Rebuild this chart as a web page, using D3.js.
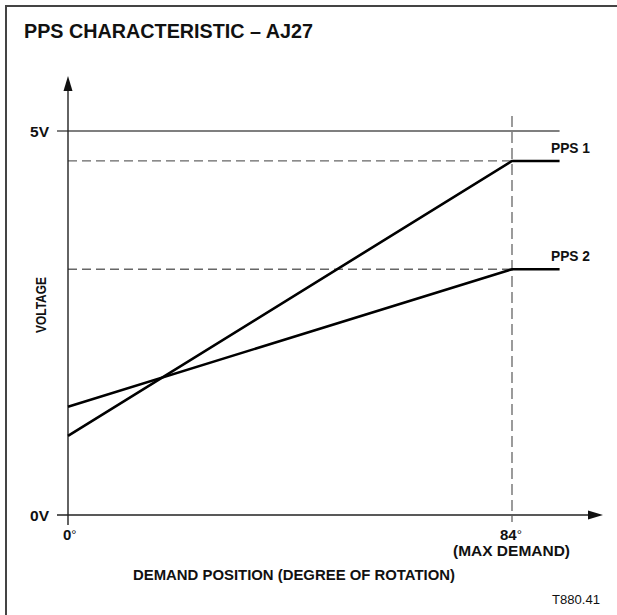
<!DOCTYPE html>
<html>
<head>
<meta charset="utf-8">
<script src="https://cdn.jsdelivr.net/npm/d3@7"></script>
<style>
  html, body { margin: 0; padding: 0; background: #fff; }
  svg { display: block; }
  text { font-family: "Liberation Sans", Arial, Helvetica, sans-serif; fill: #111; }
</style>
</head>
<body>
<svg id="chart" width="617" height="615"></svg>
<script>
// Pedal position sensor output versus demand angle
const angles = [0, 84, 93];          // degrees of rotation
const pps1 = [1.03, 4.61, 4.61];     // volts
const pps2 = [1.41, 3.20, 3.20];     // volts
const voltTicks = [0, 5];
const voltLabels = ["0V", "5V"];
const angleTicks = [0, 84];
const angleLabels = ["0", "84"];
const seriesNames = ["PPS 1", "PPS 2"];

const svg = d3.select("#chart");

const x = d3.scaleLinear().domain([0, 84]).range([68, 512]);
const y = d3.scaleLinear().domain([0, 5]).range([515, 131]);

// frame
svg.append("path")
  .attr("d", "M6,620 L6,6 L620,6")
  .attr("fill", "none").attr("stroke", "#444").attr("stroke-width", 2);

// title
svg.append("text")
  .attr("x", 24).attr("y", 38)
  .attr("font-size", 20).attr("font-weight", "bold")
  .attr("textLength", 289).attr("lengthAdjust", "spacingAndGlyphs")
  .text("PPS CHARACTERISTIC \u2013 AJ27");

const gridColor = "#555";
const dashColor = "#666";

// 5V reference line
svg.append("line")
  .attr("x1", 57).attr("x2", x(93))
  .attr("y1", y(5)).attr("y2", y(5))
  .attr("stroke", gridColor).attr("stroke-width", 1.3);

// dashed level lines for each sensor's maximum
[pps1[1], pps2[1]].forEach(v => {
  svg.append("line")
    .attr("x1", x(0)).attr("x2", x(84))
    .attr("y1", y(v)).attr("y2", y(v))
    .attr("stroke", dashColor).attr("stroke-width", 1.3)
    .attr("stroke-dasharray", "9,5");
});

// dashed max-demand line
svg.append("line")
  .attr("x1", x(84)).attr("x2", x(84))
  .attr("y1", 116).attr("y2", 522)
  .attr("stroke", dashColor).attr("stroke-width", 1.3)
  .attr("stroke-dasharray", "11,5");

// axes
svg.append("line")
  .attr("x1", 57).attr("x2", 592)
  .attr("y1", y(0)).attr("y2", y(0))
  .attr("stroke", "#222").attr("stroke-width", 1.4);
svg.append("path")
  .attr("d", `M603,${y(0)} L588,${y(0) - 4.5} L588,${y(0) + 4.5} Z`)
  .attr("fill", "#111");

svg.append("line")
  .attr("x1", x(0)).attr("x2", x(0))
  .attr("y1", 525).attr("y2", 88)
  .attr("stroke", "#222").attr("stroke-width", 1.4);
svg.append("path")
  .attr("d", `M${x(0)},76 L${x(0) - 4.5},91 L${x(0) + 4.5},91 Z`)
  .attr("fill", "#111");

// y tick labels
svg.selectAll(".vlab").data(voltTicks).join("text")
  .attr("class", "vlab")
  .attr("x", 49).attr("y", d => y(d) + 5.5)
  .attr("text-anchor", "end")
  .attr("font-size", 15).attr("font-weight", "bold")
  .attr("textLength", 19).attr("lengthAdjust", "spacingAndGlyphs")
  .text((d, i) => voltLabels[i]);

// x tick labels with degree sign
const xl = svg.selectAll(".alab").data(angleTicks).join("text")
  .attr("class", "alab")
  .attr("x", d => x(d) - (d === 0 ? 5 : 12)).attr("y", 539.5)
  .attr("font-size", 15).attr("font-weight", "bold");
xl.append("tspan").text((d, i) => angleLabels[i]);
xl.append("tspan").attr("font-weight", "normal").attr("font-size", 13)
  .attr("dy", -1).text("\u00b0");

svg.append("text")
  .attr("x", 453).attr("y", 555.5)
  .attr("font-size", 15).attr("font-weight", "bold")
  .attr("textLength", 117).attr("lengthAdjust", "spacingAndGlyphs")
  .text("(MAX DEMAND)");

// axis titles
svg.append("text")
  .attr("x", 133).attr("y", 579.5)
  .attr("font-size", 15).attr("font-weight", "bold")
  .attr("textLength", 322).attr("lengthAdjust", "spacingAndGlyphs")
  .text("DEMAND POSITION (DEGREE OF ROTATION)");

svg.append("text")
  .attr("transform", "translate(45.5,305) rotate(-90)")
  .attr("text-anchor", "middle")
  .attr("font-size", 15).attr("font-weight", "bold")
  .attr("textLength", 56).attr("lengthAdjust", "spacingAndGlyphs")
  .text("VOLTAGE");

// sensor lines
const line = d3.line().x((d, i) => x(angles[i])).y(d => y(d));
[pps1, pps2].forEach(s => {
  svg.append("path")
    .attr("d", line(s))
    .attr("fill", "none").attr("stroke", "#000").attr("stroke-width", 2.6)
    .attr("stroke-linejoin", "miter");
});

// series labels
[pps1, pps2].forEach((s, i) => {
  svg.append("text")
    .attr("x", 551).attr("y", y(s[2]) - 8)
    .attr("font-size", 15).attr("font-weight", "bold")
    .attr("textLength", 39).attr("lengthAdjust", "spacingAndGlyphs")
    .text(seriesNames[i]);
});

// figure reference
svg.append("text")
  .attr("x", 552).attr("y", 603.5)
  .attr("font-size", 13)
  .attr("textLength", 48).attr("lengthAdjust", "spacingAndGlyphs")
  .text("T880.41");
</script>
</body>
</html>
